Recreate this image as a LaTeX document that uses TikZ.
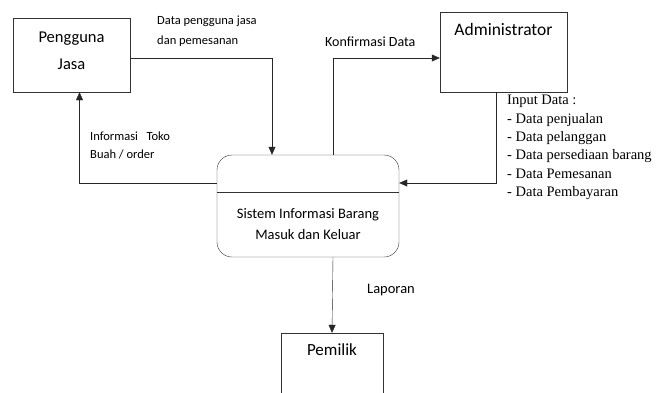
\documentclass[tikz,border=0pt]{standalone}
\usepackage{fontspec}
\setmainfont{Carlito}
\newfontfamily\listfont{Liberation Serif}
\usetikzlibrary{arrows.meta}

\begin{document}
\begin{tikzpicture}[x=1pt,y=-1pt,
        arr/.style={draw=black!85,thin,-{Triangle[length=8pt,width=7pt]}},
        entity/.style={rectangle,draw=black!80,thin,align=center},
        flow/.style={font=\fontsize{12.5}{20}\selectfont,align=left,anchor=north west,inner sep=0pt}]

    \useasboundingbox (0,0) rectangle (657,392);

    % entitas luar
    \node[entity, minimum width=117pt, minimum height=74pt,
        label={[anchor=north,yshift=-11pt,align=center,font=\fontsize{16.5}{27}\selectfont]north:Pengguna\\Jasa}] (pj) at (71.5,55) {};
    \node[entity, minimum width=127pt, minimum height=80pt,
        label={[anchor=north,yshift=-8pt,font=\fontsize{17.5}{20}\selectfont]north:Administrator}] (adm) at (503.5,52) {};
    \node[entity, minimum width=102pt, minimum height=80pt,
        label={[anchor=north,yshift=-7pt,font=\fontsize{17}{20}\selectfont]north:Pemilik}] (pem) at (332,373) {};

    % proses
    \node[draw=black!80, thin, rounded corners=15pt, minimum width=182pt, minimum height=102pt] (sys) at (308,206) {};
    \draw[black!80,thin] ([yshift=-37pt]sys.north west) -- ([yshift=-37pt]sys.north east);
    \node[font=\fontsize{14.5}{21}\selectfont, align=center] (systxt) at (308,224) {Sistem Informasi Barang\\Masuk dan Keluar};

    % aliran data
    \draw[arr] ([yshift=-3pt]pj.east) -| ([xshift=-36pt]sys.north);
    \draw[arr] ([yshift=23pt]sys.west) -| ([xshift=8pt]pj.south);
    \draw[arr] ([xshift=25pt]sys.north) |- ([yshift=-6pt]adm.west);
    \draw[arr] ([xshift=-7pt]adm.south) |- ([yshift=23pt]sys.east);
    \draw[arr] ([xshift=25pt]sys.south) -- (pem.north);

    \node[flow] (l1) at (157,16) {Data pengguna jasa\\dan pemesanan};
    \node[flow, font=\fontsize{12.5}{18}\selectfont] (l2) at (90,132) {Informasi \ \ Toko\\Buah / order};
    \node[flow, font=\fontsize{14}{16}\selectfont] (l3) at (325,37) {Konfirmasi Data};
    \node[flow, font=\fontsize{14.5}{16}\selectfont] (l4) at (367,284) {Laporan};
    \node[flow, font=\listfont\fontsize{14.5}{18.4}\selectfont] (l5) at (507,95)
        {Input Data :\\- Data penjualan\\- Data pelanggan\\- Data persediaan barang\\- Data Pemesanan\\- Data Pembayaran};

\end{tikzpicture}
\end{document}
